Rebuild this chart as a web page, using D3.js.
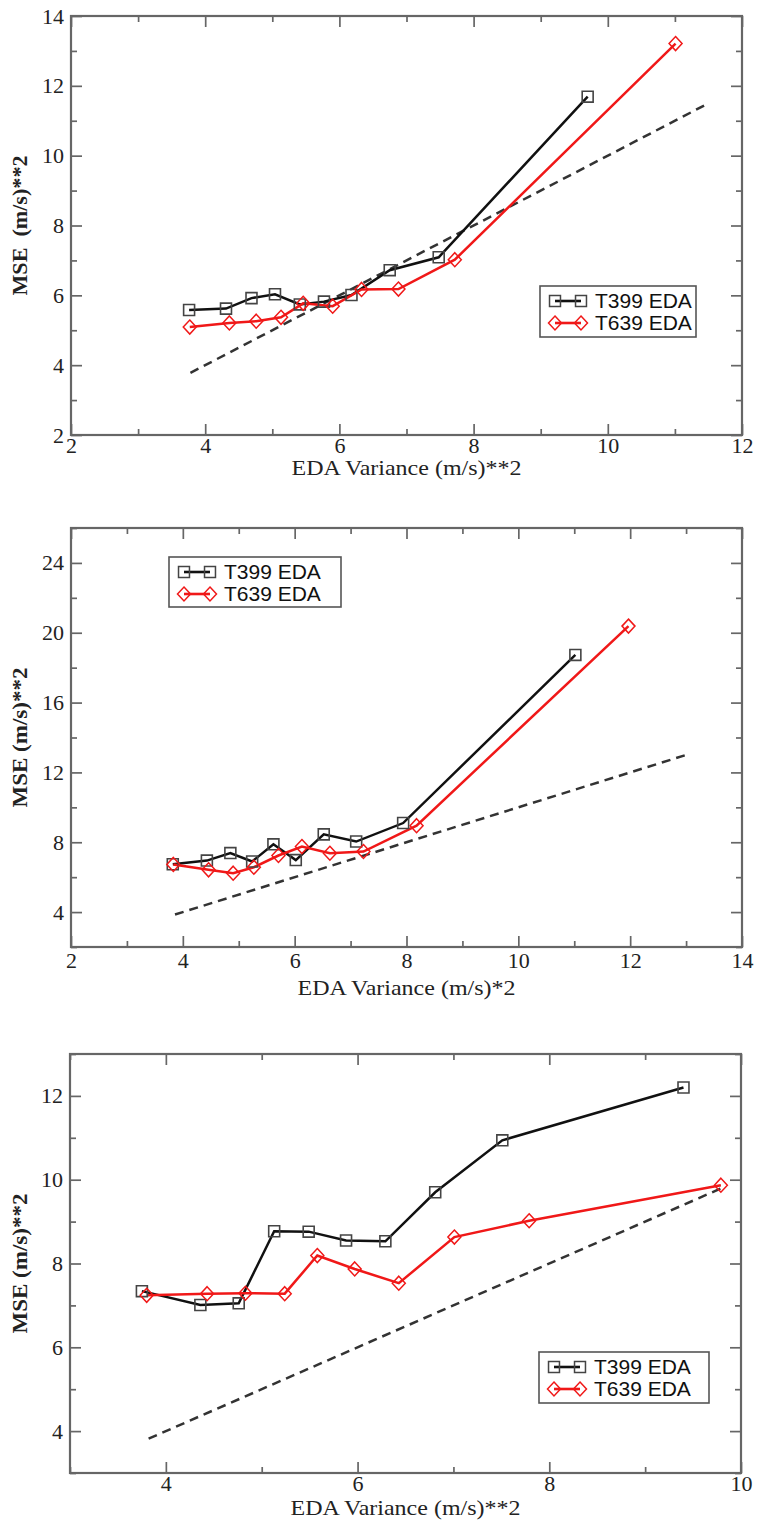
<!DOCTYPE html>
<html><head><meta charset="utf-8">
<script src="https://cdn.jsdelivr.net/npm/d3@7"></script>
<style>body{margin:0;background:#fff}svg{display:block}</style>
</head><body>
<script>
// ---------- data ----------
const seriesNames = ["T399 EDA", "T639 EDA"];

// Panel 1
const p1T399x = [3.76, 4.31, 4.69, 5.04, 5.41, 5.77, 6.18, 6.75, 7.48, 9.70];
const p1T399y = [5.58, 5.62, 5.92, 6.03, 5.74, 5.82, 6.01, 6.72, 7.09, 11.69];
const p1T639x = [3.77, 4.36, 4.76, 5.13, 5.46, 5.90, 6.33, 6.88, 7.72, 11.01];
const p1T639y = [5.09, 5.21, 5.26, 5.37, 5.77, 5.69, 6.17, 6.18, 7.02, 13.21];
const p1Diag = [3.78, 11.51];
const p1XTicks = [2, 4, 6, 8, 10, 12];
const p1YTicks = [2, 4, 6, 8, 10, 12, 14];

// Panel 2
const p2T399x = [3.82, 4.43, 4.85, 5.24, 5.62, 6.02, 6.52, 7.10, 7.94, 11.02];
const p2T399y = [6.74, 6.95, 7.38, 6.90, 7.88, 6.98, 8.45, 8.04, 9.10, 18.73];
const p2T639x = [3.83, 4.46, 4.90, 5.27, 5.71, 6.13, 6.63, 7.23, 8.18, 11.97];
const p2T639y = [6.73, 6.42, 6.23, 6.57, 7.24, 7.75, 7.37, 7.47, 8.95, 20.38];
const p2Diag = [3.86, 12.98];
const p2XTicks = [2, 4, 6, 8, 10, 12, 14];
const p2YTicks = [4, 8, 12, 16, 20, 24];

// Panel 3
const p3T399x = [3.75, 4.36, 4.76, 5.13, 5.49, 5.88, 6.29, 6.81, 7.51, 9.40];
const p3T399y = [7.34, 7.01, 7.05, 8.77, 8.76, 8.55, 8.53, 9.70, 10.94, 12.20];
const p3T639x = [3.80, 4.43, 4.83, 5.24, 5.58, 5.97, 6.43, 7.01, 7.79, 9.79];
const p3T639y = [7.24, 7.28, 7.29, 7.28, 8.19, 7.87, 7.53, 8.63, 9.02, 9.87];
const p3Diag = [3.82, 9.79];
const p3XTicks = [4, 6, 8, 10];
const p3YTicks = [4, 6, 8, 10, 12];

const xTitles = ["EDA Variance (m/s)**2", "EDA Variance (m/s)*2", "EDA Variance (m/s)**2"];
const yTitles = ["MSE  (m/s)**2", "MSE (m/s)**2", "MSE (m/s)**2"];

// ---------- layout ----------
const W = 757, H = 1521;
const panels = [
  {t399x:p1T399x,t399y:p1T399y,t639x:p1T639x,t639y:p1T639y,diag:p1Diag,
   xd:[2,12],yd:[2,14],xt:p1XTicks,yt:p1YTicks,xm:1,ym:1,
   left:71,right:742,top:16,bottom:435,xPad:2,xTitleY:475,xTitleLen:230,
   leg:{x:540,y:286,w:156,h:51}},
  {t399x:p2T399x,t399y:p2T399y,t639x:p2T639x,t639y:p2T639y,diag:p2Diag,
   xd:[2,14],yd:[2,26],xt:p2XTicks,yt:p2YTicks,xm:1,ym:2,
   left:71,right:742,top:528,bottom:947,xPad:5,xTitleY:995,xTitleLen:218,
   leg:{x:169,y:557,w:172,h:50}},
  {t399x:p3T399x,t399y:p3T399y,t639x:p3T639x,t639y:p3T639y,diag:p3Diag,
   xd:[3,10],yd:[3,13],xt:p3XTicks,yt:p3YTicks,xm:1,ym:1,
   left:70,right:741,top:1054,bottom:1473,xPad:2,xTitleY:1515,xTitleLen:230,
   leg:{x:539,y:1352,w:170,h:51}}
];

const svg = d3.select("body").append("svg").attr("width",W).attr("height",H);
const serif = "'Liberation Serif','Times New Roman',serif";
const sans = "'Liberation Sans',Arial,sans-serif";
const frameCol = "#666", redCol = "#f01818", blackCol = "#111", sqCol = "#444";
const squarePath = d3.symbol().type(d3.symbolSquare).size(120)();
const diamondPath = "M0,-7L6.5,0L0,7L-6.5,0Z";
const fmt = d3.format("d");

function range(a,b,s){const r=[];for(let v=a;v<=b+1e-9;v+=s)r.push(+v.toFixed(6));return r;}

panels.forEach((p,i)=>{
  const x = d3.scaleLinear().domain(p.xd).range([p.left,p.right]);
  const y = d3.scaleLinear().domain(p.yd).range([p.bottom,p.top]);
  const g = svg.append("g");
  const xMinor = range(p.xd[0],p.xd[1],p.xm).filter(v=>!p.xt.includes(v));
  const yMinor = range(p.yd[0],p.yd[1],p.ym).filter(v=>!p.yt.includes(v));

  function ax(gen, tr, vals, size, labels, pad){
    const a = gen.tickValues(vals).tickSize(-size).tickPadding(pad||0);
    a.tickFormat(labels ? fmt : "");
    const s = g.append("g").attr("transform",tr).call(a);
    s.select(".domain").remove();
    s.selectAll("line").attr("stroke",frameCol).attr("stroke-width",1.7);
    s.selectAll("text").attr("font-family",serif).attr("font-size",22).attr("fill","#222");
    return s;
  }
  // bottom
  ax(d3.axisBottom(x),`translate(0,${p.bottom})`,p.xt,11,true,p.xPad);
  ax(d3.axisBottom(x),`translate(0,${p.bottom})`,xMinor,6,false);
  // top
  ax(d3.axisTop(x),`translate(0,${p.top})`,p.xt,11,false);
  ax(d3.axisTop(x),`translate(0,${p.top})`,xMinor,6,false);
  // left
  ax(d3.axisLeft(y),`translate(${p.left},0)`,p.yt,11,true,7);
  ax(d3.axisLeft(y),`translate(${p.left},0)`,yMinor,6,false);
  // right
  ax(d3.axisRight(y),`translate(${p.right},0)`,p.yt,11,false);
  ax(d3.axisRight(y),`translate(${p.right},0)`,yMinor,6,false);

  // frame
  g.append("rect").attr("x",p.left).attr("y",p.top).attr("width",p.right-p.left).attr("height",p.bottom-p.top)
    .attr("fill","none").attr("stroke",frameCol).attr("stroke-width",2.2);

  // titles
  g.append("text").attr("x",(p.left+p.right)/2).attr("y",p.xTitleY).attr("text-anchor","middle")
    .attr("textLength",p.xTitleLen).attr("lengthAdjust","spacingAndGlyphs")
    .attr("font-family",serif).attr("font-size",21).attr("fill","#222").text(xTitles[i]);
  g.append("text").attr("transform",`translate(27,${(p.top+p.bottom)/2}) rotate(-90)`).attr("text-anchor","middle")
    .attr("textLength",140).attr("lengthAdjust","spacingAndGlyphs")
    .style("white-space","pre").attr("font-family",serif).attr("font-size",21).attr("font-weight","bold").attr("fill","#222").text(yTitles[i]);

  // diagonal dashed line
  const line = d3.line().x(d=>x(d[0])).y(d=>y(d[1]));
  g.append("path").datum(p.diag.map(v=>[v,v])).attr("d",line).attr("fill","none")
    .attr("stroke","#333").attr("stroke-width",2.5).attr("stroke-dasharray","9,6");

  const d399 = p.t399x.map((v,k)=>[v,p.t399y[k]]);
  const d639 = p.t639x.map((v,k)=>[v,p.t639y[k]]);
  g.append("path").datum(d399).attr("d",line).attr("fill","none").attr("stroke",blackCol).attr("stroke-width",2.5);
  g.append("path").datum(d639).attr("d",line).attr("fill","none").attr("stroke",redCol).attr("stroke-width",2.5);
  g.selectAll(".sq").data(d399).join("path").attr("d",squarePath)
    .attr("transform",d=>`translate(${x(d[0])},${y(d[1])})`).attr("fill","none").attr("stroke",sqCol).attr("stroke-width",1.6);
  g.selectAll(".dm").data(d639).join("path").attr("d",diamondPath)
    .attr("transform",d=>`translate(${x(d[0])},${y(d[1])})`).attr("fill","none").attr("stroke",redCol).attr("stroke-width",1.5);

  // legend
  const L = p.leg;
  const lg = g.append("g");
  lg.append("rect").attr("x",L.x).attr("y",L.y).attr("width",L.w).attr("height",L.h)
    .attr("fill","#fff").attr("stroke","#555").attr("stroke-width",1.6);
  const rows = [
    {name:seriesNames[0],col:blackCol,mcol:sqCol,shape:squarePath},
    {name:seriesNames[1],col:redCol,mcol:redCol,shape:diamondPath}
  ];
  rows.forEach((r,k)=>{
    const ry = L.y + 15 + k*22;
    const x0 = L.x + 15, x1 = L.x + 41;
    lg.append("line").attr("x1",x0).attr("x2",x1).attr("y1",ry).attr("y2",ry).attr("stroke",r.col).attr("stroke-width",2.6);
    [x0,x1].forEach(mx=>lg.append("path").attr("d",r.shape).attr("transform",`translate(${mx},${ry})`)
      .attr("fill","none").attr("stroke",r.mcol).attr("stroke-width",1.5));
    lg.append("text").attr("x",L.x+55).attr("y",ry+7).attr("font-family",sans).attr("font-size",21)
      .attr("fill","#111").text(r.name);
  });
});
</script>
</body></html>
